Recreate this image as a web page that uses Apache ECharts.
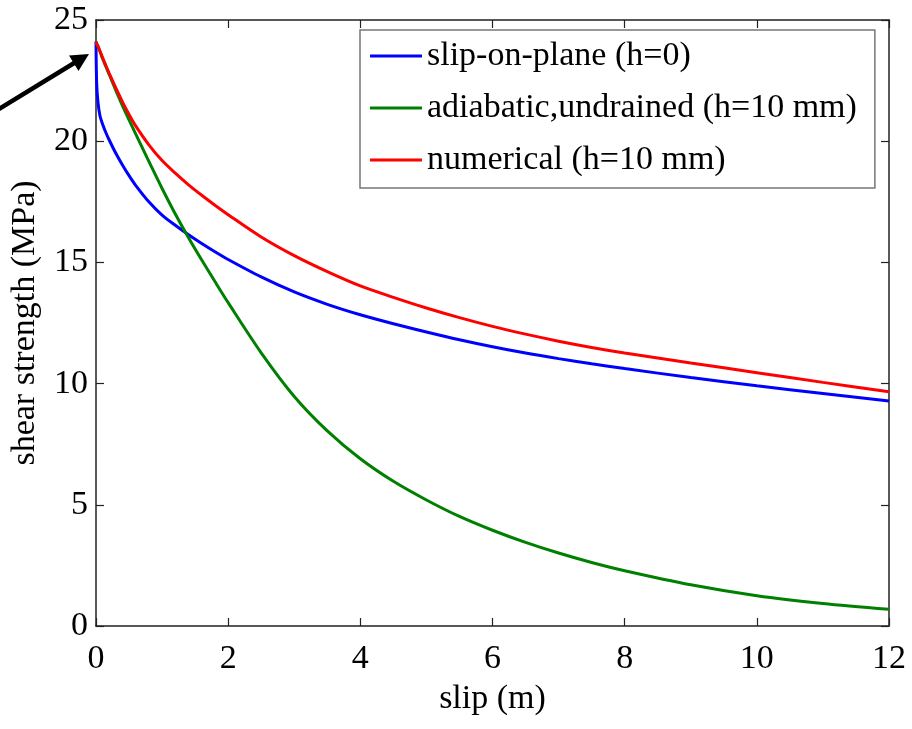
<!DOCTYPE html>
<html>
<head>
<meta charset="utf-8">
<script src="https://cdn.jsdelivr.net/npm/echarts@6/dist/echarts.min.js"></script>
<style>
html,body{margin:0;padding:0;background:#fff;}
#chart{width:912px;height:729px;}
</style>
</head>
<body>
<div id="chart"></div>
<script>
// Data
const slip = [0, 0.01, 0.03, 0.06, 0.1, 0.15, 0.2, 0.3, 0.4, 0.5, 0.6, 0.8, 1.0, 1.2, 1.4, 1.6, 1.8, 2.0, 2.5, 3.0, 3.5, 4.0, 4.5, 5.0, 5.5, 6.0, 6.5, 7.0, 7.5, 8.0, 9.0, 10.0, 11.0, 12.0];
const slipOnPlane = [24.1, 22.4, 21.6, 21.05, 20.7, 20.35, 20.05, 19.5, 19.02, 18.58, 18.18, 17.5, 16.95, 16.53, 16.14, 15.78, 15.44, 15.12, 14.4, 13.78, 13.27, 12.84, 12.47, 12.13, 11.81, 11.52, 11.26, 11.03, 10.82, 10.62, 10.25, 9.91, 9.59, 9.28];
const adiabatic = [24.1, 24.03, 23.9, 23.7, 23.4, 23.07, 22.75, 22.1, 21.47, 20.88, 20.3, 19.17, 18.05, 17.0, 16.02, 15.1, 14.21, 13.34, 11.27, 9.47, 8.05, 6.9, 5.97, 5.2, 4.52, 3.95, 3.45, 3.01, 2.62, 2.28, 1.7, 1.25, 0.93, 0.69];
const numerical = [24.1, 24.03, 23.92, 23.72, 23.45, 23.12, 22.8, 22.2, 21.62, 21.1, 20.63, 19.85, 19.2, 18.68, 18.2, 17.77, 17.36, 16.97, 16.05, 15.28, 14.62, 14.03, 13.56, 13.12, 12.72, 12.36, 12.04, 11.75, 11.49, 11.26, 10.85, 10.45, 10.05, 9.66];
const seriesNames = ['slip-on-plane (h=0)', 'adiabatic,undrained (h=10 mm)', 'numerical (h=10 mm)'];
const xTicks = {min: 0, max: 12, interval: 2};
const yTicks = {min: 0, max: 25, interval: 5};

const FONT = 'Liberation Serif';
const FS = 34;
const pair = (xs, ys) => xs.map((x, i) => [x, ys[i]]);

const chart = echarts.init(document.getElementById('chart'), null, {renderer: 'canvas'});
const axisLine = {onZero: false, lineStyle: {color: '#222', width: 1.5}};
const axisTick = {inside: true, length: 8, lineStyle: {color: '#222', width: 1.2}};
const lineSeries = (name, ys, color) => ({
  name: name, type: 'line', data: pair(slip, ys), symbol: 'none', showSymbol: false,
  smooth: 0.3,
  lineStyle: {color: color, width: 3}, itemStyle: {color: color}, z: 3
});

chart.setOption({
  animation: false,
  backgroundColor: '#fff',
  textStyle: {fontFamily: FONT},
  grid: {left: 96, right: 23, top: 20, bottom: 103},
  legend: {
    orient: 'vertical', left: 360, top: 30,
    padding: [8, 18, 10, 10],
    itemGap: 16, itemWidth: 52, itemHeight: 3, icon: 'rect',
    backgroundColor: '#fff', borderColor: '#777', borderWidth: 1.5, borderRadius: 0,
    textStyle: {fontFamily: FONT, fontSize: FS, color: '#000', lineHeight: 36},
    data: seriesNames
  },
  xAxis: [
    {type: 'value', position: 'bottom', min: xTicks.min, max: xTicks.max, interval: xTicks.interval,
     name: 'slip (m)', nameLocation: 'middle', nameGap: 56,
     nameTextStyle: {fontFamily: FONT, fontSize: FS, color: '#000'},
     axisLine: axisLine, axisTick: axisTick,
     axisLabel: {fontFamily: FONT, fontSize: FS, color: '#000', margin: 16},
     splitLine: {show: false}},
    {type: 'value', position: 'top', min: xTicks.min, max: xTicks.max, interval: xTicks.interval,
     axisLine: axisLine, axisTick: axisTick,
     axisLabel: {show: false}, splitLine: {show: false}}
  ],
  yAxis: [
    {type: 'value', position: 'left', min: yTicks.min, max: yTicks.max, interval: yTicks.interval,
     name: 'shear strength (MPa)', nameLocation: 'middle', nameGap: 54, nameRotate: 90,
     nameTextStyle: {fontFamily: FONT, fontSize: FS, color: '#000'},
     axisLine: axisLine, axisTick: axisTick,
     axisLabel: {fontFamily: FONT, fontSize: FS, color: '#000', margin: 8},
     splitLine: {show: false}},
    {type: 'value', position: 'right', min: yTicks.min, max: yTicks.max, interval: yTicks.interval,
     axisLine: axisLine, axisTick: axisTick,
     axisLabel: {show: false}, splitLine: {show: false}}
  ],
  series: [
    lineSeries(seriesNames[0], slipOnPlane, '#0000ff'),
    lineSeries(seriesNames[1], adiabatic, '#008000'),
    lineSeries(seriesNames[2], numerical, '#ff0000')
  ],
  graphic: [
    {type: 'line', shape: {x1: -6, y1: 112, x2: 75, y2: 62.5}, style: {stroke: '#000', lineWidth: 4.5}, z: 10},
    {type: 'polygon', shape: {points: [[89, 54], [78.5, 71], [69, 55.5]]}, style: {fill: '#000'}, z: 10}
  ]
});
</script>
</body>
</html>
